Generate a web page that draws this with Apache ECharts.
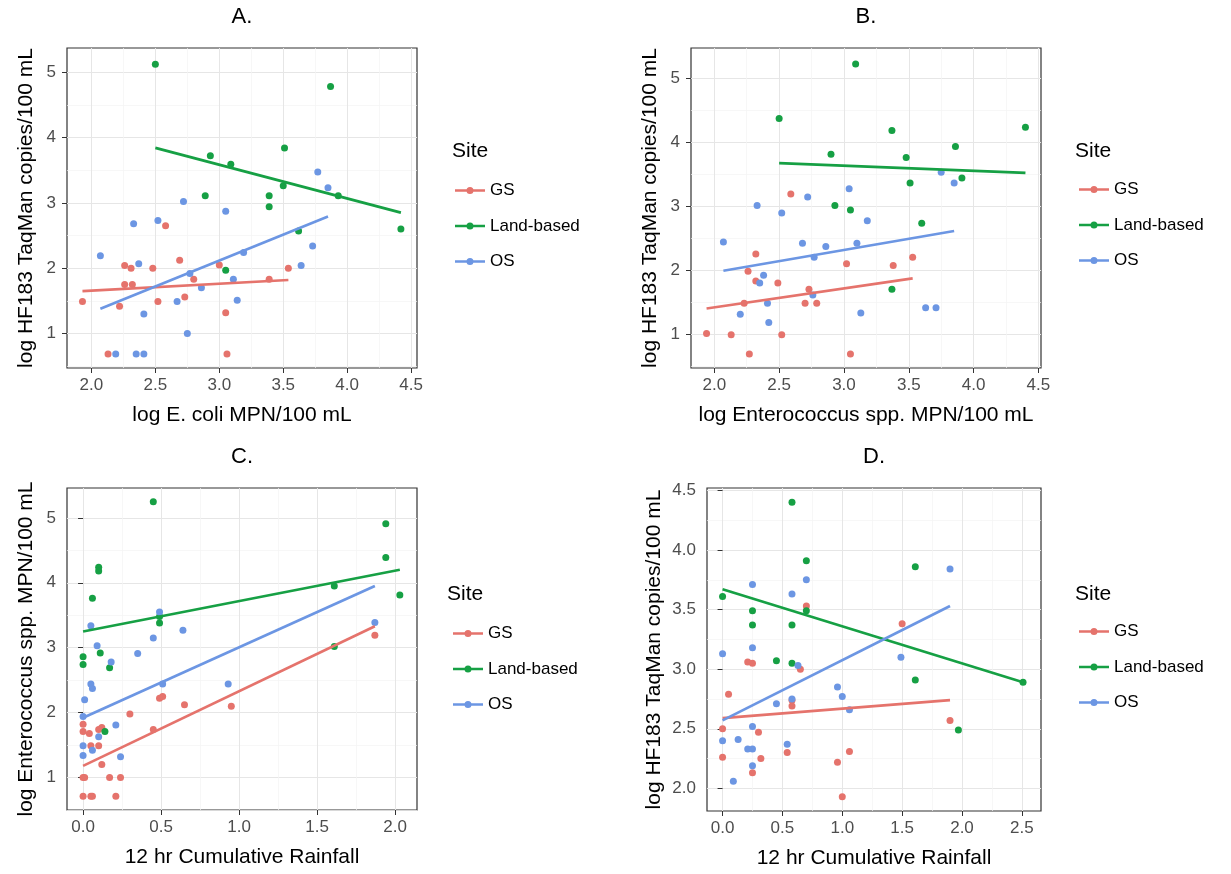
<!DOCTYPE html>
<html><head><meta charset="utf-8">
<script src="https://cdn.jsdelivr.net/npm/echarts@6/dist/echarts.min.js"></script>
<style>html,body{margin:0;padding:0;background:#fff}#c{width:1231px;height:874px}</style>
</head><body><div id="c"></div>
<script>
// ---------------- data ----------------
const sites = ['GS', 'Land-based', 'OS'];
const panelTitles = ['A.', 'B.', 'C.', 'D.'];
const legendTitle = 'Site';
const xAxisTitles = ['log E. coli MPN/100 mL', 'log Enterococcus spp. MPN/100 mL', '12 hr Cumulative Rainfall', '12 hr Cumulative Rainfall'];
const yAxisTitles = ['log HF183 TaqMan copies/100 mL', 'log HF183 TaqMan copies/100 mL', 'log Enterococcus spp. MPN/100 mL', 'log HF183 TaqMan copies/100 mL'];

// axis limits and ticks
const A_xLim = [1.809, 4.546], A_yLim = [0.474, 5.368];
const B_xLim = [1.82, 4.52],   B_yLim = [0.47, 5.47];
const C_xLim = [-0.103, 2.14], C_yLim = [0.50, 5.46];
const D_xLim = [-0.13, 2.66],  D_yLim = [1.81, 4.52];
const A_xTicks = [2.0, 2.5, 3.0, 3.5, 4.0, 4.5], A_xMinor = [2.25, 2.75, 3.25, 3.75, 4.25];
const A_yTicks = [1, 2, 3, 4, 5], A_yMinor = [0.5, 1.5, 2.5, 3.5, 4.5];
const B_xTicks = [2.0, 2.5, 3.0, 3.5, 4.0, 4.5], B_xMinor = [2.25, 2.75, 3.25, 3.75, 4.25];
const B_yTicks = [1, 2, 3, 4, 5], B_yMinor = [0.5, 1.5, 2.5, 3.5, 4.5];
const C_xTicks = [0.0, 0.5, 1.0, 1.5, 2.0], C_xMinor = [0.25, 0.75, 1.25, 1.75];
const C_yTicks = [1, 2, 3, 4, 5], C_yMinor = [0.5, 1.5, 2.5, 3.5, 4.5];
const D_xTicks = [0.0, 0.5, 1.0, 1.5, 2.0, 2.5], D_xMinor = [0.25, 0.75, 1.25, 1.75, 2.25];
const D_yTicks = [2.0, 2.5, 3.0, 3.5, 4.0, 4.5], D_yMinor = [2.25, 2.75, 3.25, 3.75, 4.25];

// Panel A points
const A_GS = [[2.58,2.65],[2.26,2.04],[2.31,2.00],[2.48,2.00],[2.69,2.12],[3.00,2.05],[2.26,1.75],[2.32,1.75],[2.80,1.83],[1.93,1.49],[2.22,1.42],[2.52,1.49],[2.73,1.56],[3.05,1.32],[2.13,0.69],[3.06,0.69],[3.54,2.00],[3.39,1.83]];
const A_Land = [[2.50,5.12],[2.93,3.72],[3.09,3.59],[2.89,3.11],[3.05,1.97],[3.87,4.78],[3.51,3.84],[3.50,3.26],[3.39,3.11],[3.39,2.94],[3.93,3.11],[3.62,2.57],[4.42,2.60]];
const A_OS = [[2.72,3.02],[3.05,2.87],[2.33,2.68],[2.52,2.73],[2.07,2.19],[2.37,2.07],[2.77,1.92],[2.86,1.70],[3.11,1.83],[3.14,1.51],[2.67,1.49],[2.41,1.30],[2.75,1.00],[2.19,0.69],[2.35,0.69],[2.41,0.69],[3.19,2.24],[3.77,3.47],[3.85,3.23],[3.73,2.34],[3.64,2.04]];
const A_fitGS = [[1.93,1.65],[3.54,1.82]];
const A_fitLand = [[2.50,3.84],[4.42,2.85]];
const A_fitOS = [[2.07,1.38],[3.85,2.79]];

// Panel B points
const B_GS = [[2.59,3.19],[2.32,2.25],[2.26,1.98],[2.32,1.83],[2.49,1.80],[3.02,2.10],[2.73,1.70],[2.70,1.48],[2.79,1.48],[2.23,1.48],[1.94,1.01],[2.13,0.99],[2.52,0.99],[2.27,0.69],[3.05,0.69],[3.53,2.20],[3.38,2.07]];
const B_Land = [[3.09,5.22],[2.50,4.37],[2.90,3.81],[2.93,3.01],[3.05,2.94],[3.37,4.18],[4.40,4.23],[3.86,3.93],[3.48,3.76],[3.51,3.36],[3.91,3.44],[3.60,2.73],[3.37,1.70]];
const B_OS = [[3.04,3.27],[2.72,3.14],[2.33,3.01],[2.52,2.89],[3.18,2.77],[2.07,2.44],[2.68,2.42],[2.86,2.37],[3.10,2.42],[2.77,2.20],[2.38,1.92],[2.35,1.80],[2.41,1.48],[2.76,1.61],[2.20,1.31],[2.42,1.18],[3.13,1.33],[3.75,3.53],[3.85,3.36],[3.63,1.41],[3.71,1.41]];
const B_fitGS = [[1.94,1.40],[3.53,1.87]];
const B_fitLand = [[2.50,3.67],[4.40,3.52]];
const B_fitOS = [[2.07,1.99],[3.85,2.61]];

// Panel C points
const C_GS = [[0.49,2.22],[0.51,2.25],[0.65,2.12],[0.95,2.10],[0.30,1.98],[0.00,1.82],[0.00,1.71],[0.04,1.68],[0.12,1.77],[0.10,1.74],[0.45,1.74],[0.05,1.49],[0.10,1.49],[0.12,1.20],[0.00,1.00],[0.01,1.00],[0.17,1.00],[0.24,1.00],[0.00,0.71],[0.05,0.71],[0.06,0.71],[0.21,0.71],[1.87,3.19]];
const C_Land = [[0.45,5.25],[0.10,4.24],[0.10,4.18],[0.06,3.76],[0.49,3.48],[0.49,3.38],[0.00,2.86],[0.00,2.74],[0.11,2.92],[0.17,2.69],[0.14,1.71],[1.94,4.91],[1.94,4.39],[2.03,3.81],[1.61,3.95],[1.61,3.02]];
const C_OS = [[0.49,3.55],[0.05,3.34],[0.64,3.27],[0.45,3.15],[0.09,3.03],[0.35,2.91],[0.18,2.78],[0.05,2.44],[0.06,2.37],[0.51,2.44],[0.93,2.44],[0.01,2.20],[0.00,1.94],[0.21,1.81],[0.10,1.63],[0.00,1.49],[0.06,1.42],[0.00,1.34],[0.24,1.32],[1.87,3.39]];
const C_fitGS = [[0.00,1.18],[1.87,3.33]];
const C_fitLand = [[0.00,3.25],[2.03,4.20]];
const C_fitOS = [[0.00,1.92],[1.87,3.95]];

// Panel D points
const D_GS = [[0.70,3.53],[0.21,3.06],[0.25,3.05],[0.65,3.00],[0.05,2.79],[0.58,2.74],[0.58,2.69],[0.00,2.50],[0.30,2.47],[0.00,2.26],[0.32,2.25],[0.54,2.30],[0.25,2.13],[0.96,2.22],[1.06,2.31],[1.00,1.93],[1.50,3.38],[1.90,2.57]];
const D_Land = [[0.58,4.40],[0.70,3.91],[0.00,3.61],[0.25,3.49],[0.25,3.37],[0.58,3.37],[0.70,3.49],[0.45,3.07],[0.58,3.05],[1.61,3.86],[1.61,2.91],[1.97,2.49],[2.51,2.89]];
const D_OS = [[0.25,3.71],[0.70,3.75],[0.58,3.63],[0.00,3.13],[0.25,3.18],[0.63,3.03],[0.96,2.85],[1.00,2.77],[0.45,2.71],[0.58,2.75],[0.25,2.52],[0.00,2.40],[0.13,2.41],[0.21,2.33],[0.25,2.33],[0.54,2.37],[0.25,2.19],[0.09,2.06],[1.06,2.66],[1.90,3.84],[1.49,3.10]];
const D_fitGS = [[0.00,2.59],[1.90,2.74]];
const D_fitLand = [[0.00,3.67],[2.51,2.89]];
const D_fitOS = [[0.00,2.57],[1.90,3.53]];

// ---------------- styling / layout ----------------
const FONT = '"Liberation Sans", Arial, sans-serif';
const COLORS = ['#E5736C', '#16A044', '#6C96E3'];
const panels = [
  { grid: {left: 67, top: 48, width: 350, height: 320}, xLim: A_xLim, yLim: A_yLim, xT: A_xTicks, xM: A_xMinor, yT: A_yTicks, yM: A_yMinor, xDec: 1, yDec: 0,
    pts: [A_GS, A_Land, A_OS], fits: [A_fitGS, A_fitLand, A_fitOS], xGap: 37, yGap: 30,
    title: [242, 17], legendTitle: [452, 151], legend: [455, 182] },
  { grid: {left: 691, top: 48, width: 350, height: 320}, xLim: B_xLim, yLim: B_yLim, xT: B_xTicks, xM: B_xMinor, yT: B_yTicks, yM: B_yMinor, xDec: 1, yDec: 0,
    pts: [B_GS, B_Land, B_OS], fits: [B_fitGS, B_fitLand, B_fitOS], xGap: 37, yGap: 30,
    title: [866, 17], legendTitle: [1075, 151], legend: [1079, 181] },
  { grid: {left: 67, top: 488, width: 350, height: 322}, xLim: C_xLim, yLim: C_yLim, xT: C_xTicks, xM: C_xMinor, yT: C_yTicks, yM: C_yMinor, xDec: 1, yDec: 0,
    pts: [C_GS, C_Land, C_OS], fits: [C_fitGS, C_fitLand, C_fitOS], xGap: 37, yGap: 30,
    title: [242, 457], legendTitle: [447, 594], legend: [453, 625] },
  { grid: {left: 707, top: 488, width: 334, height: 323}, xLim: D_xLim, yLim: D_yLim, xT: D_xTicks, xM: D_xMinor, yT: D_yTicks, yM: D_yMinor, xDec: 1, yDec: 1,
    pts: [D_GS, D_Land, D_OS], fits: [D_fitGS, D_fitLand, D_fitOS], xGap: 37, yGap: 42,
    title: [874, 457], legendTitle: [1075, 594], legend: [1079, 623] }
];

const grids = [], xAxes = [], yAxes = [], series = [], legends = [], graphics = [];
const LEGEND_ICON = 'path://M0,2.3L30,2.3L30,4.7L0,4.7Z M11.5,3.5A3.5,3.5 0 1,1 18.5,3.5A3.5,3.5 0 1,1 11.5,3.5Z';
function minorLine0() { return { show: true, lineStyle: { color: '#F4F4F4', width: 0.7 } }; }

panels.forEach((p, i) => {
  grids.push(Object.assign({ show: true, borderColor: '#333333', borderWidth: 1.2, backgroundColor: 'transparent' }, p.grid));
  const majorLine = { show: true, lineStyle: { color: '#E6E6E6', width: 1 } };
  xAxes.push({
    type: 'value', gridIndex: i, min: p.xLim[0], max: p.xLim[1], position: 'bottom',
    name: xAxisTitles[i], nameLocation: 'middle', nameGap: p.xGap,
    nameTextStyle: { fontSize: 21, color: '#000', fontFamily: FONT },
    axisLine: { show: false },
    axisTick: { show: true, customValues: p.xT, length: 5, lineStyle: { color: '#333', width: 1 } },
    axisLabel: { customValues: p.xT, formatter: v => Number(v).toFixed(p.xDec), color: '#4D4D4D', fontSize: 17, margin: 9, fontFamily: FONT },
    splitLine: majorLine
  });
  yAxes.push({
    type: 'value', gridIndex: i, min: p.yLim[0], max: p.yLim[1], position: 'left',
    name: yAxisTitles[i], nameLocation: 'middle', nameGap: p.yGap,
    nameTextStyle: { fontSize: 21, color: '#000', fontFamily: FONT },
    axisLine: { show: false },
    axisTick: { show: true, customValues: p.yT, length: 5, lineStyle: { color: '#333', width: 1 } },
    axisLabel: { customValues: p.yT, formatter: v => Number(v).toFixed(p.yDec), color: '#4D4D4D', fontSize: 17, margin: 11, fontFamily: FONT },
    splitLine: majorLine
  });
});
panels.forEach((p, i) => {
  xAxes.push({
    type: 'value', gridIndex: i, min: p.xLim[0], max: p.xLim[1], position: 'top',
    axisLine: { show: false }, axisTick: { show: false, customValues: p.xM },
    axisLabel: { show: false, customValues: p.xM }, splitLine: minorLine0()
  });
  yAxes.push({
    type: 'value', gridIndex: i, min: p.yLim[0], max: p.yLim[1], position: 'right',
    axisLine: { show: false }, axisTick: { show: false, customValues: p.yM },
    axisLabel: { show: false, customValues: p.yM }, splitLine: minorLine0()
  });
});

panels.forEach((p, i) => {
  sites.forEach((s, k) => {
    series.push({
      type: 'scatter', name: s, xAxisIndex: i, yAxisIndex: i, data: p.pts[k],
      symbol: 'circle', symbolSize: 7, itemStyle: { color: COLORS[k], opacity: 1 }, z: 3,
      emphasis: { disabled: true }
    });
  });
  sites.forEach((s, k) => {
    series.push({
      type: 'line', name: s, xAxisIndex: i, yAxisIndex: i, data: p.fits[k],
      showSymbol: false, symbol: 'none', lineStyle: { color: COLORS[k], width: 2.7 }, itemStyle: { color: COLORS[k] }, z: 4,
      emphasis: { disabled: true }
    });
  });
  legends.push({
    data: sites, orient: 'vertical', left: p.legend[0], top: p.legend[1], padding: 0,
    icon: LEGEND_ICON, itemWidth: 30, itemHeight: 7, itemGap: 18.5, selectedMode: false,
    textStyle: { fontSize: 17, color: '#000', fontFamily: FONT }
  });
  graphics.push({
    type: 'text', x: p.title[0], y: p.title[1],
    style: { text: panelTitles[i], font: '22px ' + FONT, fill: '#000', align: 'center', verticalAlign: 'middle', textAlign: 'center', textVerticalAlign: 'middle' }
  });
  graphics.push({
    type: 'text', x: p.legendTitle[0], y: p.legendTitle[1],
    style: { text: legendTitle, font: '21px ' + FONT, fill: '#000', align: 'left', verticalAlign: 'middle', textAlign: 'left', textVerticalAlign: 'middle' }
  });
});

const chart = echarts.init(document.getElementById('c'), null, { renderer: 'canvas' });
chart.setOption({
  animation: false,
  backgroundColor: '#fff',
  textStyle: { fontFamily: FONT },
  grid: grids, xAxis: xAxes, yAxis: yAxes, series: series, legend: legends, graphic: graphics
});
</script></body></html>
